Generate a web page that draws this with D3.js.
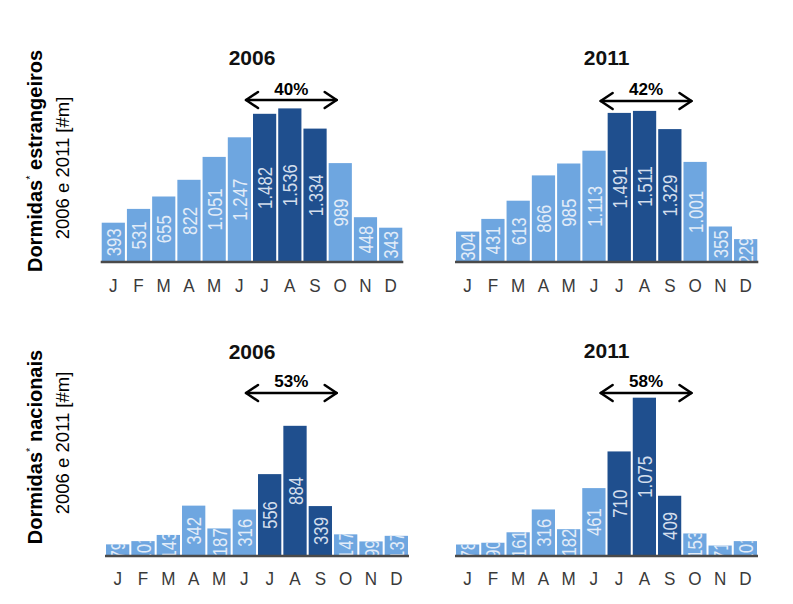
<!DOCTYPE html>
<html><head><meta charset="utf-8">
<script src="https://cdn.jsdelivr.net/npm/d3@7"></script>
<style>body{margin:0;background:#fff}svg{display:block}</style>
</head><body><div id="chart"></div>
<script>
const months = ["J","F","M","A","M","J","J","A","S","O","N","D"];
const estrangeiros2006 = [393,531,655,822,1051,1247,1482,1536,1334,989,448,343];
const estrangeiros2011 = [304,431,613,866,985,1113,1491,1511,1329,1001,355,229];
const nacionais2006 = [79,101,143,342,187,316,556,884,339,147,99,137];
const nacionais2011 = [78,90,161,316,182,461,710,1075,409,153,71,101];
const highlightMonths = [6,7,8];
const years = ["2006","2011","2006","2011"];
const shares = ["40%","42%","53%","58%"];
const rowTitles = ["Dormidas", "estrangeiros", "nacionais"];
const rowSub = "2006 e 2011 [#m]";

const W = 793, H = 604;
const svg = d3.select("#chart").append("svg").attr("width", W).attr("height", H);
const pt = d3.formatLocale({decimal: ",", thousands: ".", grouping: [3], currency: ["", "€"]});
const fmt = pt.format(",d");

const LIGHT = "#6ea6e0", DARK = "#1f4f8e";
const sans = "'Liberation Sans',Arial,sans-serif";
const NARROW = 0.8;

const panels = [
  {data: estrangeiros2006, frame:[100.7,403.3], bars:[100.7,403.3], base:262, max:1600, h:160, titleY:57, arrowY:100, pctY:95, monthY:285},
  {data: estrangeiros2011, frame:[455,758.3], bars:[455,758.3], base:262, max:1600, h:160, titleY:57, arrowY:101, pctY:95, monthY:285},
  {data: nacionais2006, frame:[100.7,403.3], bars:[105,409], base:556, max:1100, h:162, titleY:351.5, arrowY:393, pctY:387, monthY:578},
  {data: nacionais2011, frame:[455,758.3], bars:[455,758], base:556, max:1100, h:162, titleY:350, arrowY:393, pctY:387, monthY:578}
];

panels.forEach((p, pi) => {
  const g = svg.append("g");
  const idx = d3.range(months.length);
  const x = d3.scaleBand().domain(idx).range(p.bars).paddingInner(0.08).paddingOuter(0.04);
  const fx = d3.scaleBand().domain(idx).range(p.frame).paddingInner(0.08).paddingOuter(0.04);
  const y = d3.scaleLinear().domain([0, p.max]).range([p.base, p.base - p.h]);

  const bars = g.selectAll("g.bar").data(p.data).join("g").attr("class","bar");
  bars.append("clipPath").attr("id", (d,i)=>`c${pi}_${i}`)
    .append("rect")
    .attr("x", (d,i)=>x(i)).attr("width", x.bandwidth())
    .attr("y", d=>y(d)).attr("height", d=>y(0)-y(d));
  bars.append("rect")
    .attr("x", (d,i)=>x(i)).attr("width", x.bandwidth())
    .attr("y", d=>y(d)).attr("height", d=>y(0)-y(d))
    .attr("fill", (d,i)=>highlightMonths.includes(i) ? DARK : LIGHT);
  bars.append("g").attr("clip-path", (d,i)=>`url(#c${pi}_${i})`)
    .append("text")
    .attr("transform", (d,i)=>`translate(${x(i)+x.bandwidth()/2},${(y(d)+y(0))/2}) rotate(-90) scale(${NARROW},1)`)
    .attr("text-anchor","middle").attr("dy","0.36em")
    .attr("font-family", sans).attr("font-size", 21)
    .attr("fill", (d,i)=>highlightMonths.includes(i) ? "#d3deec" : "#e2ecf8")
    .text(d=>fmt(d));

  const axis = d3.axisBottom(x).tickSize(0).tickFormat(i=>months[i]);
  const ax = g.append("g").attr("transform", `translate(0,${p.base})`).call(axis);
  ax.select(".domain").attr("stroke","#4a4a4a").attr("stroke-width",2.5)
    .attr("d", `M${p.bars[0]},0H${p.bars[1]}`);
  ax.selectAll(".tick text")
    .attr("y", null).attr("dy", null)
    .attr("transform", `translate(0,${p.monthY - p.base + 6.5}) scale(0.95,1)`)
    .attr("font-family", sans).attr("font-size", 18).attr("fill","#3a3a3a");

  const cx = (p.frame[0]+p.frame[1])/2;
  g.append("text").attr("x", cx).attr("y", p.titleY).attr("dy","0.36em")
    .attr("text-anchor","middle").attr("font-family", sans).attr("font-weight","bold")
    .attr("font-size", 21).attr("fill","#111").text(years[pi]);

  const ax0 = fx(highlightMonths[0]) - 7;
  const ax1 = fx(highlightMonths[highlightMonths.length-1]) + fx.step() + 8;
  const ay = p.arrowY;
  const ag = g.append("g").attr("stroke","#000").attr("stroke-width",2.5).attr("fill","none")
    .attr("stroke-linecap","round").attr("stroke-linejoin","round");
  ag.append("path").attr("d", `M${ax0},${ay}H${ax1}`);
  ag.append("path").attr("d", `M${ax0+12},${ay-8}L${ax0},${ay}L${ax0+12},${ay+8}`);
  ag.append("path").attr("d", `M${ax1-12},${ay-8}L${ax1},${ay}L${ax1-12},${ay+8}`);
  g.append("text").attr("x", (ax0+ax1)/2).attr("y", p.pctY)
    .attr("text-anchor","middle").attr("font-family", sans).attr("font-weight","bold")
    .attr("font-size", 17).attr("fill","#000").text(shares[pi]);
});

const rows = [{word: rowTitles[1], cy: 161, cy2: 168}, {word: rowTitles[2], cy: 447, cy2: 443}];
rows.forEach(r => {
  const t = svg.append("text").attr("transform", `translate(42,${r.cy}) rotate(-90)`)
    .attr("text-anchor","middle").attr("font-family", sans).attr("font-weight","bold")
    .attr("font-size", 20).attr("fill","#000");
  t.append("tspan").text(rowTitles[0]);
  t.append("tspan").attr("font-size", 11).attr("font-weight","normal").attr("dy", -8).text("*");
  t.append("tspan").attr("dy", 8).text(" " + r.word);
  svg.append("text").attr("transform", `translate(69,${r.cy2}) rotate(-90)`)
    .attr("text-anchor","middle").attr("font-family", sans)
    .attr("font-size", 18.5).attr("fill","#000").text(rowSub);
});
</script></body></html>
